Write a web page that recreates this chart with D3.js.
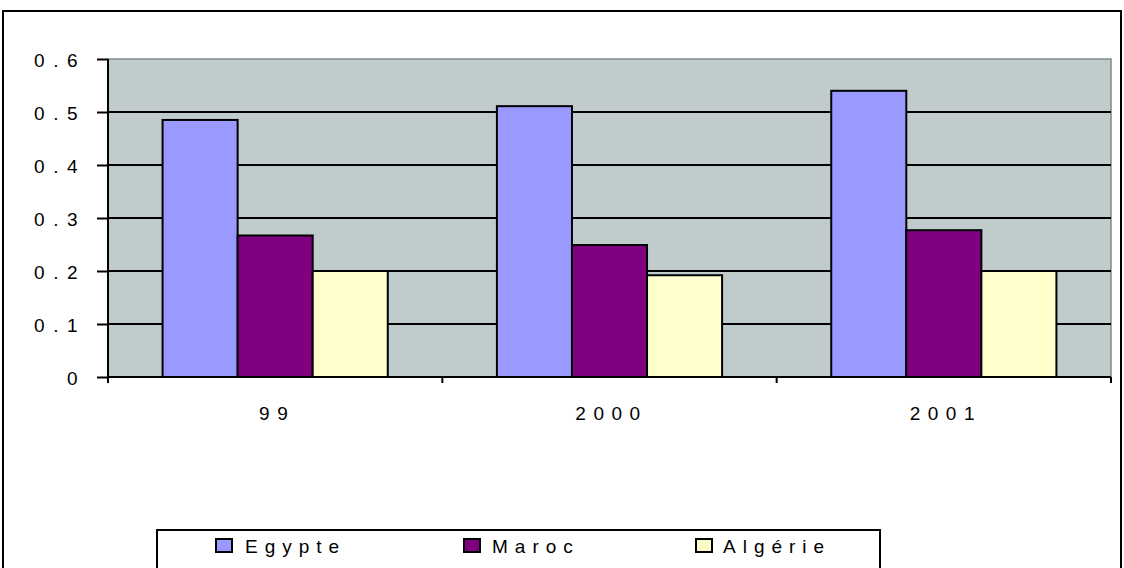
<!DOCTYPE html>
<html><head><meta charset="utf-8">
<script src="https://cdn.jsdelivr.net/npm/d3@7"></script>
<style>
body{margin:0;background:#fff;}
text{font-family:"Liberation Sans",Arial,sans-serif;fill:#000;}
</style></head>
<body>
<svg id="c" width="1124" height="568"></svg>
<script>
const categories = ["99", "2000", "2001"];
const seriesNames = ["Egypte", "Maroc", "Algérie"];
const egypte = [0.485, 0.511, 0.540];
const maroc = [0.267, 0.249, 0.277];
const algerie = [0.200, 0.192, 0.200];
const yTicks = [0, 0.1, 0.2, 0.3, 0.4, 0.5, 0.6];
const yTickLabels = ["0", "0.1", "0.2", "0.3", "0.4", "0.5", "0.6"];
const colors = ["#9999ff", "#800080", "#ffffcc"];

const series = [egypte, maroc, algerie];
const svg = d3.select("#c");

// outer chart border
svg.append("rect").attr("x", 3).attr("y", 11).attr("width", 1118).attr("height", 570)
  .attr("fill", "none").attr("stroke", "#000").attr("stroke-width", 2);

const L = 108, R = 1111, T = 59, B = 377;
const y = d3.scaleLinear().domain([0, 0.6]).range([B, T]);
const x = d3.scaleBand().domain(categories).range([L, R]).paddingInner(0).paddingOuter(0);
const inner = d3.scaleBand().domain(d3.range(3)).range([0, x.bandwidth()]).paddingInner(0).paddingOuter(0.727);

// plot area
svg.append("rect").attr("x", L).attr("y", T).attr("width", R - L).attr("height", B - T)
  .attr("fill", "#c0cccb").attr("stroke", "#7f8c8c").attr("stroke-width", 1.5);

// gridlines
svg.append("g").selectAll("line").data(yTicks.filter(v => v > 0 && v < 0.6)).join("line")
  .attr("x1", L).attr("x2", R).attr("y1", d => y(d)).attr("y2", d => y(d))
  .attr("stroke", "#000").attr("stroke-width", 2);

// bars
const g = svg.append("g");
categories.forEach((c, ci) => {
  series.forEach((s, si) => {
    g.append("rect")
      .attr("x", x(c) + inner(si))
      .attr("y", y(s[ci]))
      .attr("width", inner.bandwidth())
      .attr("height", B - y(s[ci]))
      .attr("fill", colors[si])
      .attr("stroke", "#000").attr("stroke-width", 2);
  });
});

// y axis
const yAxis = d3.axisLeft(y).tickValues(yTicks).tickSize(11).tickPadding(11)
  .tickFormat((d, i) => yTickLabels[i]);
const ya = svg.append("g").attr("transform", `translate(${L},0)`).call(yAxis);
ya.select(".domain").attr("stroke", "#000").attr("stroke-width", 2).attr("d", `M0,${T}V${B}`);
ya.selectAll(".tick line").attr("stroke", "#000").attr("stroke-width", 2);
ya.selectAll("text").attr("font-size", 19).attr("letter-spacing", "8.5px")
  .attr("font-family", "'Liberation Sans',Arial,sans-serif").attr("fill", "#000").attr("dy", "0.38em");

// x axis
const xa = svg.append("g").attr("transform", `translate(0,${B})`);
xa.append("line").attr("x1", L).attr("x2", R).attr("y1", 0).attr("y2", 0)
  .attr("stroke", "#000").attr("stroke-width", 2);
xa.selectAll("line.t").data(categories.map(c => x(c)).concat([R])).join("line").attr("class", "t")
  .attr("x1", d => d).attr("x2", d => d).attr("y1", 0).attr("y2", 6)
  .attr("stroke", "#000").attr("stroke-width", 2);
xa.selectAll("text").data(categories).join("text")
  .attr("x", d => x(d) + x.bandwidth() / 2 + 2).attr("y", 43)
  .attr("text-anchor", "middle").attr("font-size", 19).attr("letter-spacing", "7.5px")
  .text(d => d);

// legend
const lg = svg.append("g");
lg.append("rect").attr("x", 157).attr("y", 530).attr("width", 723).attr("height", 60)
  .attr("fill", "#fff").attr("stroke", "#000").attr("stroke-width", 2);
const legX = [216, 464, 696];
const legTX = [245, 492, 723];
seriesNames.forEach((n, i) => {
  lg.append("rect").attr("x", legX[i]).attr("y", 539).attr("width", 16).attr("height", 13)
    .attr("fill", colors[i]).attr("stroke", "#000").attr("stroke-width", 2);
  lg.append("text").attr("x", legTX[i]).attr("y", 553).attr("font-size", 19)
    .attr("letter-spacing", "7px").text(n);
});
</script>
</body></html>
